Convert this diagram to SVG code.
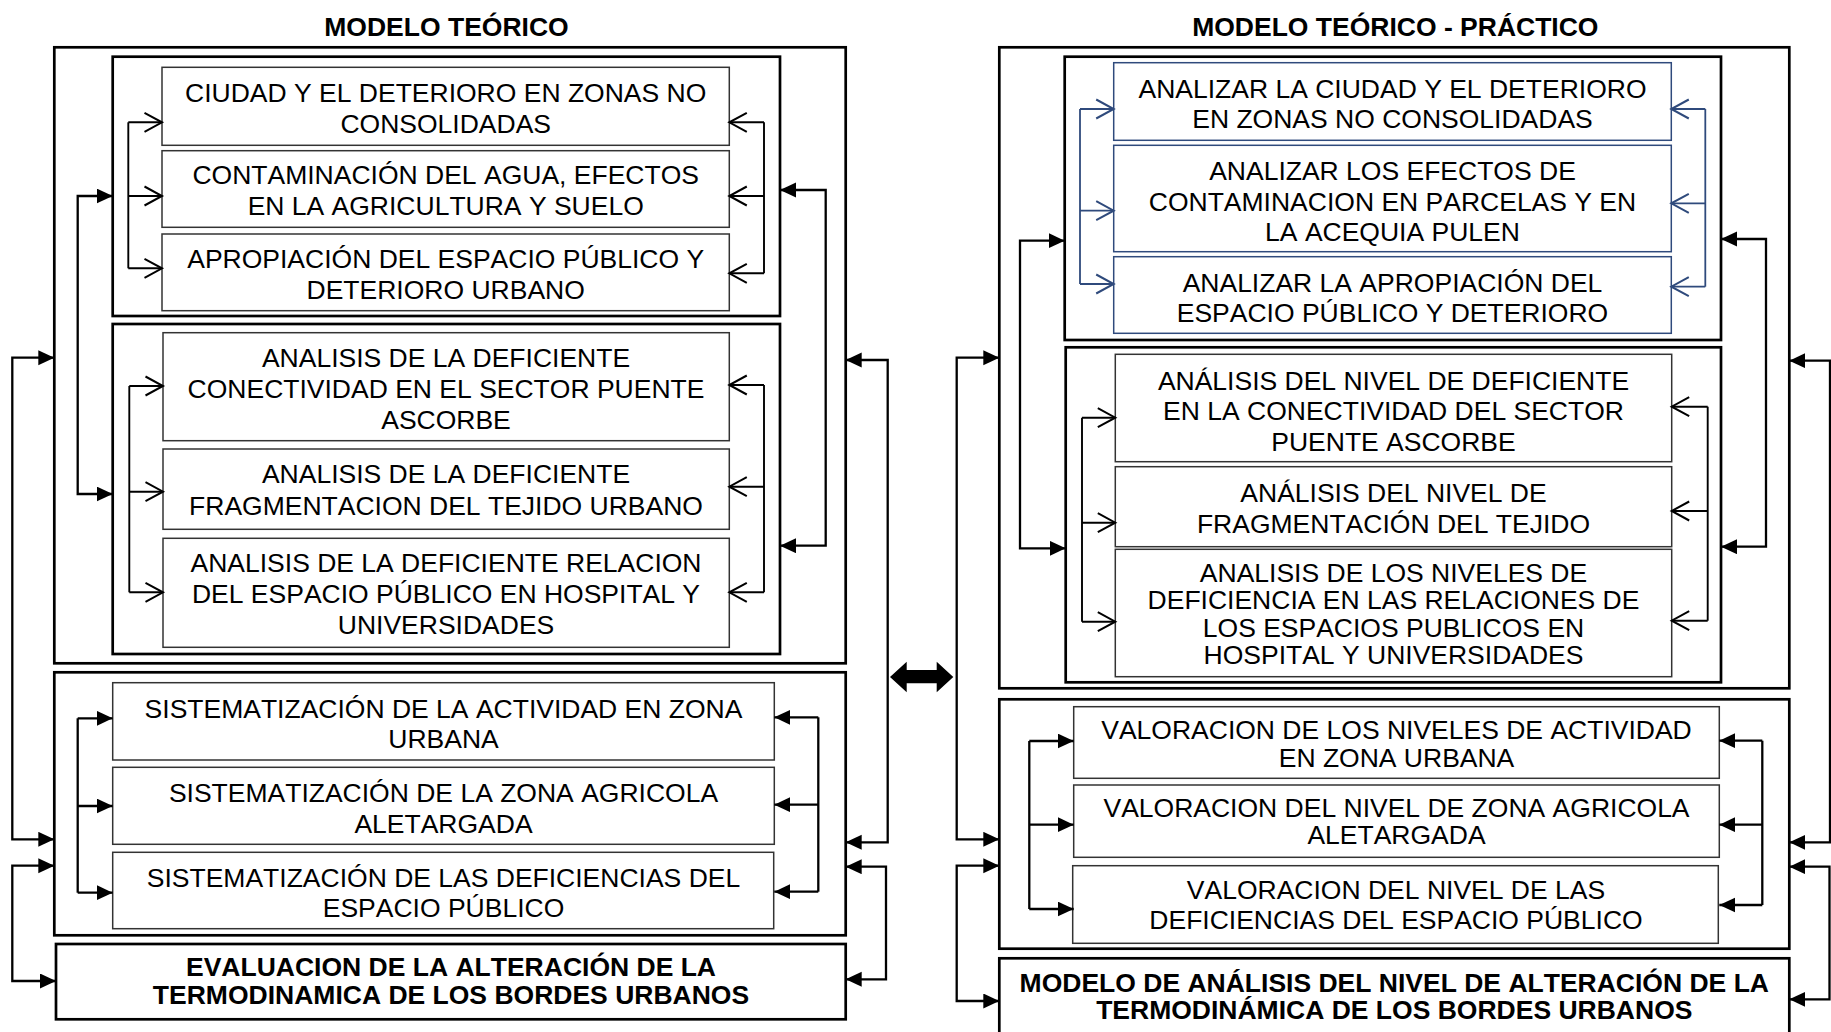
<svg xmlns="http://www.w3.org/2000/svg" width="1831" height="1032" viewBox="0 0 1831 1032">
<style>
.bg{fill:#fff}
.box{fill:#fff;stroke:#000;stroke-width:2.7}
.node{fill:#fff;stroke:#333;stroke-width:1.5}
.bnode{fill:#fff;stroke:#2F4A7C;stroke-width:1.5}
.t{font-family:"Liberation Sans",Arial,sans-serif;font-size:26.5px;text-anchor:middle;fill:#000;font-kerning:none}
.tb{font-weight:bold}
.c{fill:none;stroke:#000;stroke-width:2.3}
.co{fill:none;stroke:#000;stroke-width:1.9}
.cb{fill:none;stroke:#2F4A7C;stroke-width:1.8}
.f{marker-end:url(#fa)}
.fs{marker-start:url(#fa);marker-end:url(#fa)}
.o{marker-end:url(#oa)}
.ob{marker-end:url(#ob)}
</style>
<defs>
<marker id="fa" markerUnits="userSpaceOnUse" markerWidth="17" markerHeight="16" refX="16" refY="7.5" orient="auto-start-reverse"><path d="M0,0 L16,7.5 L0,15 z" fill="#000"/></marker>
<marker id="oa" markerUnits="userSpaceOnUse" markerWidth="22" markerHeight="24" refX="19" refY="11" orient="auto"><path d="M1.5,1.5 L19,11 L1.5,20.5" fill="none" stroke="#000" stroke-width="2"/></marker>
<marker id="ob" markerUnits="userSpaceOnUse" markerWidth="22" markerHeight="24" refX="19" refY="11" orient="auto"><path d="M1.5,1.5 L19,11 L1.5,20.5" fill="none" stroke="#2F4A7C" stroke-width="2"/></marker>
</defs>
<rect class="bg" x="0" y="0" width="1831" height="1032"/>

<g id="titles">
<text class="t tb" x="446.5" y="36">MODELO TEÓRICO</text>
<text class="t tb" x="1395.3" y="36">MODELO TEÓRICO - PRÁCTICO</text>
</g>

<g id="containers">
<rect id="L-outer1" class="box" x="54.3" y="47.3" width="791.4" height="616"/>
<rect id="L-innerA" class="box" x="112.7" y="56.7" width="667.3" height="259.3"/>
<rect id="L-innerB" class="box" x="112.7" y="324" width="667.3" height="330"/>
<rect id="L-outerC" class="box" x="54.3" y="672.3" width="791.4" height="263"/>
<rect id="R-outer1" class="box" x="999.3" y="47.3" width="790" height="641"/>
<rect id="R-innerA" class="box" x="1064.7" y="56.7" width="656.3" height="283.3"/>
<rect id="R-innerB" class="box" x="1065.7" y="347.3" width="655.3" height="335"/>
<rect id="R-outerC" class="box" x="999.3" y="699.3" width="790" height="249.4"/>
</g>

<g id="n1"><rect class="node" x="162" y="67.3" width="567.3" height="78"/><text class="t"><tspan x="445.7" y="101.7">CIUDAD Y EL DETERIORO EN ZONAS NO</tspan><tspan x="445.7" y="132.7">CONSOLIDADAS</tspan></text></g>
<g id="n2"><rect class="node" x="162" y="150.7" width="567.3" height="76.6"/><text class="t"><tspan x="445.7" y="184.3">CONTAMINACIÓN DEL AGUA, EFECTOS</tspan><tspan x="445.7" y="215">EN LA AGRICULTURA Y SUELO</tspan></text></g>
<g id="n3"><rect class="node" x="162" y="234" width="567.3" height="76.7"/><text class="t"><tspan x="445.7" y="268.3">APROPIACIÓN DEL ESPACIO PÚBLICO Y</tspan><tspan x="445.7" y="299">DETERIORO URBANO</tspan></text></g>
<g id="n4"><rect class="node" x="163" y="332.7" width="566.3" height="108"/><text class="t"><tspan x="446" y="367.3">ANALISIS DE LA DEFICIENTE</tspan><tspan x="446" y="398.3">CONECTIVIDAD EN EL SECTOR PUENTE</tspan><tspan x="446" y="429">ASCORBE</tspan></text></g>
<g id="n5"><rect class="node" x="163" y="449" width="566.3" height="80.3"/><text class="t"><tspan x="446" y="483.3">ANALISIS DE LA DEFICIENTE</tspan><tspan x="446" y="515">FRAGMENTACION DEL TEJIDO URBANO</tspan></text></g>
<g id="n6"><rect class="node" x="163" y="538.3" width="566.3" height="109"/><text class="t"><tspan x="446" y="572.3">ANALISIS DE LA DEFICIENTE RELACION</tspan><tspan x="446" y="603.3">DEL ESPACIO PÚBLICO EN HOSPITAL Y</tspan><tspan x="446" y="634">UNIVERSIDADES</tspan></text></g>
<g id="n7"><rect class="node" x="112.7" y="682.7" width="661.6" height="77.3"/><text class="t"><tspan x="443.5" y="717.7">SISTEMATIZACIÓN DE LA ACTIVIDAD EN ZONA</tspan><tspan x="443.5" y="748.3">URBANA</tspan></text></g>
<g id="n8"><rect class="node" x="112.7" y="767.3" width="661.6" height="77"/><text class="t"><tspan x="443.5" y="801.7">SISTEMATIZACIÓN DE LA ZONA AGRICOLA</tspan><tspan x="443.5" y="832.7">ALETARGADA</tspan></text></g>
<g id="n9"><rect class="node" x="112.7" y="852.3" width="661" height="76.4"/><text class="t"><tspan x="443.5" y="886.7">SISTEMATIZACIÓN DE LAS DEFICIENCIAS DEL</tspan><tspan x="443.5" y="917.3">ESPACIO PÚBLICO</tspan></text></g>
<g id="nD"><rect class="box" x="56" y="944" width="789.7" height="75.3"/><text class="t tb"><tspan x="451" y="976">EVALUACION DE LA ALTERACIÓN DE LA</tspan><tspan x="451" y="1004.3">TERMODINAMICA DE LOS BORDES URBANOS</tspan></text></g>

<g id="rn1"><rect class="bnode" x="1113.7" y="62.7" width="557.6" height="77.6"/><text class="t"><tspan x="1392.5" y="98.3">ANALIZAR LA CIUDAD Y EL DETERIORO</tspan><tspan x="1392.5" y="128.3">EN ZONAS NO CONSOLIDADAS</tspan></text></g>
<g id="rn2"><rect class="bnode" x="1113.7" y="145.3" width="557.6" height="106.4"/><text class="t"><tspan x="1392.5" y="180">ANALIZAR LOS EFECTOS DE</tspan><tspan x="1392.5" y="210.7">CONTAMINACION EN PARCELAS Y EN</tspan><tspan x="1392.5" y="240.7">LA ACEQUIA PULEN</tspan></text></g>
<g id="rn3"><rect class="bnode" x="1113.7" y="256.7" width="557.6" height="76.6"/><text class="t"><tspan x="1392.5" y="291.7">ANALIZAR LA APROPIACIÓN DEL</tspan><tspan x="1392.5" y="322.3">ESPACIO PÚBLICO Y DETERIORO</tspan></text></g>
<g id="rn4"><rect class="node" x="1115.3" y="354.3" width="556.4" height="107.4"/><text class="t"><tspan x="1393.5" y="390">ANÁLISIS DEL NIVEL DE DEFICIENTE</tspan><tspan x="1393.5" y="420">EN LA CONECTIVIDAD DEL SECTOR</tspan><tspan x="1393.5" y="450.7">PUENTE ASCORBE</tspan></text></g>
<g id="rn5"><rect class="node" x="1115.3" y="466.7" width="556.4" height="80"/><text class="t"><tspan x="1393.5" y="501.7">ANÁLISIS DEL NIVEL DE</tspan><tspan x="1393.5" y="532.7">FRAGMENTACIÓN DEL TEJIDO</tspan></text></g>
<g id="rn6"><rect class="node" x="1115.3" y="549.3" width="556.4" height="127.4"/><text class="t"><tspan x="1393.5" y="582.3">ANALISIS DE LOS NIVELES DE</tspan><tspan x="1393.5" y="609.3">DEFICIENCIA EN LAS RELACIONES DE</tspan><tspan x="1393.5" y="636.7">LOS ESPACIOS PUBLICOS EN</tspan><tspan x="1393.5" y="664">HOSPITAL Y UNIVERSIDADES</tspan></text></g>
<g id="rn7"><rect class="node" x="1073.7" y="706.7" width="645.6" height="71.6"/><text class="t"><tspan x="1396.5" y="739.3">VALORACION DE LOS NIVELES DE ACTIVIDAD</tspan><tspan x="1396.5" y="766.7">EN ZONA URBANA</tspan></text></g>
<g id="rn8"><rect class="node" x="1073.7" y="785" width="645.6" height="72.3"/><text class="t"><tspan x="1396.5" y="817.3">VALORACION DEL NIVEL DE ZONA AGRICOLA</tspan><tspan x="1396.5" y="844.3">ALETARGADA</tspan></text></g>
<g id="rn9"><rect class="node" x="1072.7" y="865.7" width="645.6" height="77.6"/><text class="t"><tspan x="1396" y="899.3">VALORACION DEL NIVEL DE LAS</tspan><tspan x="1396" y="929.3">DEFICIENCIAS DEL ESPACIO PÚBLICO</tspan></text></g>
<g id="rnD"><rect class="box" x="999.3" y="958.3" width="790" height="82"/><text class="t tb"><tspan x="1394.3" y="991.7">MODELO DE ANÁLISIS DEL NIVEL DE ALTERACIÓN DE LA</tspan><tspan x="1394.3" y="1019.3">TERMODINÁMICA DE LOS BORDES URBANOS</tspan></text></g>

<g id="connectors">
<path class="co" d="M128.3,122.3 V268.3"/>
<path class="co o" d="M128.3,122.3 H162"/>
<path class="co o" d="M128.3,196 H162"/>
<path class="co o" d="M128.3,268.3 H162"/>
<path class="co" d="M764,122.3 V273.3"/>
<path class="co o" d="M764,122.3 H729.3"/>
<path class="co o" d="M764,196 H729.3"/>
<path class="co o" d="M764,273.3 H729.3"/>
<path class="co" d="M129.3,386 V592.3"/>
<path class="co o" d="M129.3,386 H163"/>
<path class="co o" d="M129.3,491.7 H163"/>
<path class="co o" d="M129.3,592.3 H163"/>
<path class="co" d="M764,385 V592.3"/>
<path class="co o" d="M764,385 H729.3"/>
<path class="co o" d="M764,486.7 H729.3"/>
<path class="co o" d="M764,592.3 H729.3"/>
<path class="c fs" d="M112.7,196 H77.7 V494 H112.7"/>
<path class="c fs" d="M780,190 H825.7 V545.7 H780"/>
<path class="c fs" d="M54.3,357.7 H12.3 V839.3 H54.3"/>
<path class="c fs" d="M54.3,865.7 H12.3 V981 H56"/>
<path class="c fs" d="M845.7,360 H887.7 V842.3 H845.7"/>
<path class="c fs" d="M845.7,866.7 H886 V979.3 H845.7"/>
<path class="c" d="M77.7,718.3 V892.7"/>
<path class="c f" d="M77.7,718.3 H112.7"/>
<path class="c f" d="M77.7,806 H112.7"/>
<path class="c f" d="M77.7,892.7 H112.7"/>
<path class="c" d="M818.3,717.3 V891.7"/>
<path class="c f" d="M818.3,717.3 H774.3"/>
<path class="c f" d="M818.3,804.7 H774.3"/>
<path class="c f" d="M818.3,891.7 H774.3"/>
<path class="cb" d="M1080,109 V284"/>
<path class="cb ob" d="M1080,109 H1113.7"/>
<path class="cb ob" d="M1080,210.7 H1113.7"/>
<path class="cb ob" d="M1080,284 H1113.7"/>
<path class="cb" d="M1705.3,109 V286.7"/>
<path class="cb ob" d="M1705.3,109 H1671.3"/>
<path class="cb ob" d="M1705.3,203.3 H1671.3"/>
<path class="cb ob" d="M1705.3,286.7 H1671.3"/>
<path class="co" d="M1082,417.7 V621.7"/>
<path class="co o" d="M1082,417.7 H1115.3"/>
<path class="co o" d="M1082,522.7 H1115.3"/>
<path class="co o" d="M1082,621.7 H1115.3"/>
<path class="co" d="M1707.7,406.7 V620.7"/>
<path class="co o" d="M1707.7,406.7 H1671.7"/>
<path class="co o" d="M1707.7,511 H1671.7"/>
<path class="co o" d="M1707.7,620.7 H1671.7"/>
<path class="c fs" d="M1064.7,240.7 H1020 V548.3 H1065.7"/>
<path class="c fs" d="M1721,239 H1766 V546.7 H1721"/>
<path class="c fs" d="M999.3,357.7 H956.7 V839.3 H999.3"/>
<path class="c fs" d="M999.3,865.7 H956.7 V1001 H999.3"/>
<path class="c fs" d="M1789.3,360.7 H1830 V842.3 H1789.3"/>
<path class="c fs" d="M1789.3,866.7 H1829.5 V999.3 H1789.3"/>
<path class="c" d="M1029.3,741 V909"/>
<path class="c f" d="M1029.3,741 H1073.7"/>
<path class="c f" d="M1029.3,824.7 H1073.7"/>
<path class="c f" d="M1029.3,909 H1073.7"/>
<path class="c" d="M1762.3,740.7 V905"/>
<path class="c f" d="M1762.3,740.7 H1719.3"/>
<path class="c f" d="M1762.3,824.7 H1719.3"/>
<path class="c f" d="M1762.3,905 H1719.3"/>
<path d="M890,677 L906.7,661.7 V670 H936.7 V661.7 L953.3,677 L936.7,692.3 V683.3 H906.7 V692.3 Z" fill="#000"/>
</g>
</svg>
